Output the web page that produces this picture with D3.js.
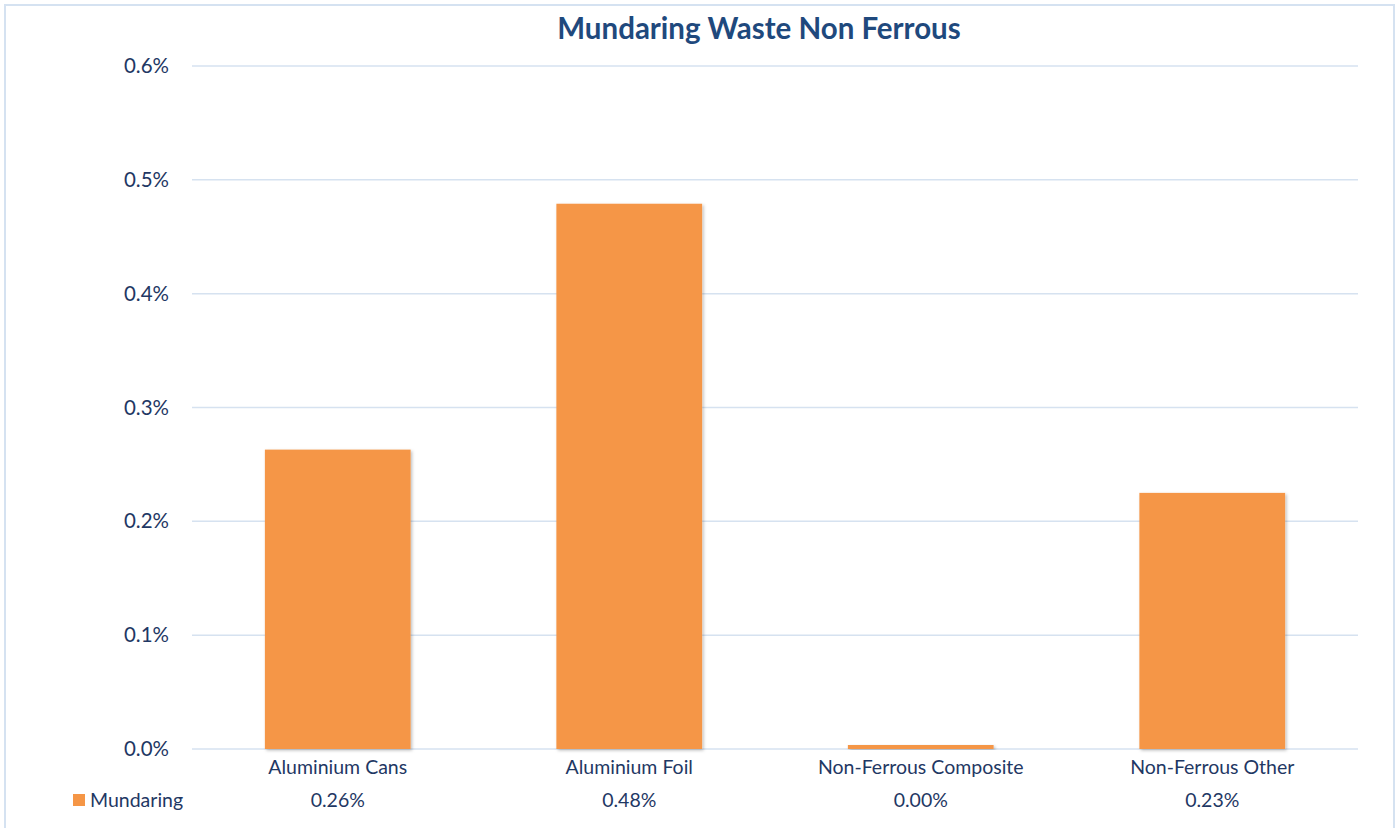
<!DOCTYPE html>
<html>
<head>
<meta charset="utf-8">
<script src="https://cdn.jsdelivr.net/npm/d3@7"></script>
<style>
html,body{margin:0;padding:0;background:#fff;}
svg{display:block;font-family:Lato,"Open Sans",sans-serif;}
</style>
</head>
<body>
<svg id="chart" width="1399" height="828"></svg>
<script>
const title = "Mundaring Waste Non Ferrous";
const categories = ["Aluminium Cans", "Aluminium Foil", "Non-Ferrous Composite", "Non-Ferrous Other"];
const seriesName = "Mundaring";
const values = [0.00263, 0.00479, 0.000035, 0.00225];
const tableLabels = ["0.26%", "0.48%", "0.00%", "0.23%"];
const yTicks = [0, 0.001, 0.002, 0.003, 0.004, 0.005, 0.006];

const svg = d3.select("#chart");
const m = {left: 192, right: 1358, top: 66, bottom: 749};
const textColor = "#1f3864";
const barColor = "#f59646";
const font = "Lato,'Open Sans',sans-serif";

// outer border
svg.append("rect").attr("x", 5).attr("y", 5).attr("width", 1389).attr("height", 830)
  .attr("fill", "#fff").attr("stroke", "#d5e2f1").attr("stroke-width", 2);

const defs = svg.append("defs");
const f = defs.append("filter").attr("id", "shadow").attr("x", "-10%").attr("y", "-10%").attr("width", "120%").attr("height", "120%");
f.append("feDropShadow").attr("dx", 1.5).attr("dy", 1.5).attr("stdDeviation", 1.5).attr("flood-color", "#000").attr("flood-opacity", 0.25);

const x = d3.scaleBand().domain(categories).range([m.left, m.right]).paddingInner(0.5).paddingOuter(0.25);
const y = d3.scaleLinear().domain([0, 0.006]).range([m.bottom, m.top]);

// gridlines
svg.append("g").selectAll("line").data(yTicks).join("line")
  .attr("x1", m.left).attr("x2", m.right)
  .attr("y1", d => y(d)).attr("y2", d => y(d))
  .attr("stroke", "#d6e2f0").attr("stroke-width", 1.5);

// y axis labels
const yAxis = d3.axisLeft(y).tickValues(yTicks).tickFormat(d3.format(".1%")).tickSize(0).tickPadding(0);
const gy = svg.append("g").attr("transform", `translate(${169},0)`).call(yAxis);
gy.select(".domain").remove();
gy.selectAll("text").attr("fill", textColor).attr("font-size", 20.5).attr("font-family", font);

// bars
svg.append("g").selectAll("rect").data(values).join("rect")
  .attr("x", (d, i) => x(categories[i]))
  .attr("width", x.bandwidth())
  .attr("y", d => y(d))
  .attr("height", d => y(0) - y(d))
  .attr("fill", barColor)
  .attr("filter", "url(#shadow)");

// category labels
const xAxis = d3.axisBottom(x).tickSize(0).tickPadding(0);
const gx = svg.append("g").attr("transform", `translate(0,${m.bottom + 25})`).call(xAxis);
gx.select(".domain").remove();
gx.selectAll("text").attr("fill", textColor).attr("font-size", 19.5).attr("dy", 0).attr("font-family", font);

// data table row
svg.append("g").selectAll("text").data(tableLabels).join("text")
  .attr("x", (d, i) => x(categories[i]) + x.bandwidth() / 2)
  .attr("y", 807)
  .attr("text-anchor", "middle")
  .attr("fill", textColor).attr("font-size", 19.5)
  .text(d => d);

svg.append("rect").attr("x", 73).attr("y", 794).attr("width", 12).attr("height", 12).attr("fill", barColor);
svg.append("text").attr("x", 90).attr("y", 807).attr("fill", textColor).attr("font-size", 19.5).text(seriesName);

// title
svg.append("text").attr("x", (m.left + m.right) / 2 - 16).attr("y", 39)
  .attr("text-anchor", "middle").attr("font-size", 29.5).attr("font-weight", "bold")
  .attr("fill", "#1f497d").text(title);
</script>
</body>
</html>
